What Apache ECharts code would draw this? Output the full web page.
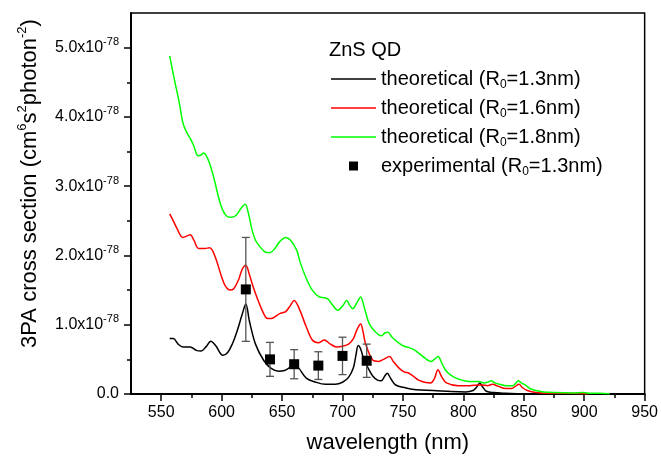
<!DOCTYPE html>
<html>
<head>
<meta charset="utf-8">
<script src="https://cdn.jsdelivr.net/npm/echarts@6/dist/echarts.min.js"></script>
<style>
  html, body { margin: 0; padding: 0; background: #fff; }
  #chart { width: 661px; height: 460px; }
</style>
</head>
<body>
<div id="chart"></div>
<script>
// values in units of 1e-78 cm^6 s^2 photon^-2
const wlR13 = [557,560,564,568,574,579,583,587,591,595,601,605,609,613,617,620,623,628,635,641,647,652,656,660,664,670,678,686,694,700,705,709,711,713,715,718,721,725,729,732,735,737,740,744,752,761,775,790,802,808,811,813.5,816,819,825,835,845];
const valR13 = [0.80,0.80,0.72,0.68,0.68,0.63,0.62,0.68,0.76,0.70,0.56,0.60,0.73,0.92,1.15,1.30,1.05,0.72,0.48,0.37,0.33,0.34,0.38,0.44,0.37,0.23,0.17,0.14,0.14,0.17,0.24,0.38,0.55,0.70,0.65,0.48,0.38,0.26,0.20,0.19,0.26,0.30,0.22,0.13,0.09,0.06,0.05,0.035,0.03,0.05,0.10,0.16,0.10,0.04,0.02,0.01,0.005];

const wlR16 = [557,560,563,568,574,577,581,586,590,594,600,603,607,610,614,617,620,623,627,634,638,641,648,653,657,660,664,670,675,680,685,690,695,700,705,709,712,715,717,719,725,730,734,739,742,747,751,755,759,763,768,773,776,779,782,786,796,805,813,816,820,824,829,835,840,843,846,849,853,860,870,885,903];
const valR16 = [2.60,2.50,2.39,2.26,2.30,2.22,2.10,2.10,2.11,2.01,1.69,1.56,1.50,1.52,1.65,1.80,1.86,1.72,1.50,1.19,1.09,1.09,1.16,1.19,1.28,1.35,1.24,0.97,0.78,0.74,0.78,0.72,0.68,0.69,0.72,0.80,0.93,1.01,0.90,0.73,0.49,0.47,0.50,0.54,0.47,0.37,0.32,0.30,0.25,0.20,0.17,0.16,0.22,0.35,0.25,0.16,0.12,0.12,0.13,0.13,0.12,0.14,0.11,0.08,0.08,0.11,0.14,0.09,0.05,0.02,0.01,0.01,0.005];

const wlR18 = [557,561,565,568,571,574,577,580.5,583,585,587,590,594,598,601,604,608,612,616,619.5,622,625,628,632,636,640,644,648,653,657,662,665,670,675,681,685,688,692,696,700,703.5,706,708.5,712,715,718,722,727,732,735,737.5,741,747,751,755,759,763,768,773,776,779,782,785,789,794,799,805,813,817,820,823,826,830,835,841,843,845.5,848,852,855,860,866,876,890,899.5,905,912,921];
const valR18 = [4.88,4.53,4.20,3.91,3.78,3.69,3.58,3.44,3.45,3.48,3.45,3.33,3.09,2.80,2.65,2.57,2.55,2.58,2.68,2.74,2.62,2.38,2.22,2.12,2.05,2.04,2.10,2.20,2.26,2.22,2.08,1.90,1.67,1.50,1.40,1.39,1.37,1.28,1.21,1.27,1.35,1.28,1.23,1.32,1.40,1.25,1.02,0.90,0.84,0.88,0.89,0.82,0.73,0.69,0.67,0.64,0.59,0.52,0.47,0.50,0.54,0.45,0.35,0.28,0.23,0.20,0.18,0.18,0.16,0.17,0.19,0.16,0.14,0.12,0.12,0.15,0.19,0.16,0.12,0.08,0.05,0.03,0.02,0.015,0.02,0.01,0.01,0.005];

const expWl = [620,640,660,680,700,720];
const expVal = [1.51,0.50,0.43,0.41,0.55,0.48];
const expErr = [0.75,0.245,0.21,0.20,0.27,0.24];

const xMajor = [550,600,650,700,750,800,850,900,950];
const xMinor = [575,625,675,725,775,825,875,925];
const yMajor = [0,1,2,3,4,5];
const yMinor = [0.5,1.5,2.5,3.5,4.5];

const names = ['theoretical (R0=1.3nm)','theoretical (R0=1.6nm)','theoretical (R0=1.8nm)','experimental (R0=1.3nm)'];

const FONT = 'Liberation Sans';
const zip = (a, b) => a.map((x, i) => [x, b[i]]);
const LINE_ICON = 'path://M0,0H45V1.5H0Z';

const lineSeries = (name, wl, val, color) => ({
  name: name,
  type: 'line',
  data: zip(wl, val),
  symbol: 'none',
  showSymbol: false,
  smooth: 0.35,
  lineStyle: { color: color, width: 1.5 },
  itemStyle: { color: color },
  z: 3
});

const chart = echarts.init(document.getElementById('chart'));

const option = {
  backgroundColor: '#fff',
  animation: false,
  textStyle: { fontFamily: FONT, color: '#000' },
  title: {
    text: 'ZnS QD',
    left: 324,
    top: 35,
    textStyle: { fontFamily: FONT, fontSize: 20, fontWeight: 'normal', color: '#000' }
  },
  legend: {
    orient: 'vertical',
    left: 326,
    top: 62,
    itemWidth: 45,
    itemHeight: 9,
    itemGap: 5,
    data: [
      { name: names[0], icon: LINE_ICON, symbolKeepAspect: true },
      { name: names[1], icon: LINE_ICON, symbolKeepAspect: true },
      { name: names[2], icon: LINE_ICON, symbolKeepAspect: true },
      { name: names[3], icon: 'path://M0,0H10V10H0Z', symbolKeepAspect: true, itemStyle: { color: '#000', opacity: 1 } }
    ],
    formatter: n => n.replace('R0', 'R{sub|0}'),
    textStyle: {
      fontFamily: FONT, fontSize: 20, color: '#000', lineHeight: 24,
      rich: { sub: { fontSize: 12, verticalAlign: 'bottom', lineHeight: 24, padding: [6, 0, 0, 0] } }
    }
  },
  grid: {
    left: 131, right: 14, top: 13, bottom: 66,
    show: true, borderColor: '#000', borderWidth: 1.5
  },
  xAxis: [{
    type: 'value', min: 525, max: 950,
    name: 'wavelength (nm)', nameLocation: 'middle', nameGap: 38,
    nameTextStyle: { fontFamily: FONT, fontSize: 22, color: '#000' },
    axisLine: { onZero: false, lineStyle: { color: '#000', width: 2 } },
    axisTick: { customValues: xMajor, length: 7, lineStyle: { color: '#000', width: 1.5 } },
    axisLabel: { customValues: xMajor, fontFamily: FONT, fontSize: 16, color: '#000', margin: 11 },
    splitLine: { show: false }
  }, {
    type: 'value', min: 525, max: 950, position: 'bottom',
    axisLine: { show: false },
    axisTick: { customValues: xMinor, length: 4, lineStyle: { color: '#000', width: 1.5 } },
    axisLabel: { show: false },
    splitLine: { show: false }
  }],
  yAxis: [{
    type: 'value', min: 0, max: 5.5,
    name: '3PA cross section (cm{sup|6}s{sup|2}photon{sup|-2})',
    nameLocation: 'middle', nameGap: 84,
    nameTextStyle: {
      fontFamily: FONT, fontSize: 22, color: '#000', lineHeight: 28,
      padding: [0, 0, 0, 40],
      rich: { sup: { fontSize: 13, verticalAlign: 'top', lineHeight: 28 } }
    },
    axisLine: { onZero: false, lineStyle: { color: '#000', width: 2 } },
    axisTick: { customValues: yMajor, length: 7, lineStyle: { color: '#000', width: 1.5 } },
    axisLabel: {
      customValues: yMajor, fontFamily: FONT, fontSize: 16, color: '#000', margin: 12,
      lineHeight: 22,
      formatter: v => v === 0 ? '0.0' : v.toFixed(1) + 'x10{sup|-78}',
      rich: { sup: { fontSize: 11, verticalAlign: 'top', lineHeight: 22 } }
    },
    splitLine: { show: false }
  }, {
    type: 'value', min: 0, max: 5.5, position: 'left',
    axisLine: { show: false },
    axisTick: { customValues: yMinor, length: 4, lineStyle: { color: '#000', width: 1.5 } },
    axisLabel: { show: false },
    splitLine: { show: false }
  }],
  series: [
    lineSeries(names[0], wlR13, valR13, '#000000'),
    lineSeries(names[1], wlR16, valR16, '#ff0000'),
    lineSeries(names[2], wlR18, valR18, '#00ff00'),
    {
      name: 'errorbars',
      type: 'custom',
      data: expWl.map((w, i) => [w, expVal[i] - expErr[i], expVal[i] + expErr[i]]),
      renderItem: (params, api) => {
        const lo = api.coord([api.value(0), api.value(1)]);
        const hi = api.coord([api.value(0), api.value(2)]);
        const cap = 4;
        const st = { stroke: '#555', lineWidth: 1.3 };
        return {
          type: 'group',
          children: [
            { type: 'line', shape: { x1: lo[0], y1: lo[1], x2: hi[0], y2: hi[1] }, style: st },
            { type: 'line', shape: { x1: lo[0] - cap, y1: lo[1], x2: lo[0] + cap, y2: lo[1] }, style: st },
            { type: 'line', shape: { x1: hi[0] - cap, y1: hi[1], x2: hi[0] + cap, y2: hi[1] }, style: st }
          ]
        };
      },
      z: 4
    },
    {
      name: names[3],
      type: 'scatter',
      data: zip(expWl, expVal),
      symbol: 'rect',
      symbolSize: 10,
      itemStyle: { color: '#000', opacity: 1 },
      z: 5
    }
  ]
};

chart.setOption(option);
</script>
</body>
</html>
